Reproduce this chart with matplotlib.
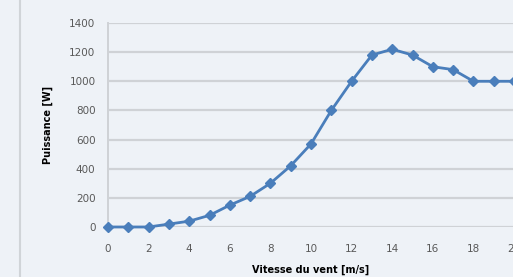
import matplotlib.pyplot as plt
from matplotlib.lines import Line2D

# wind speed [m/s] vs power [W]
vitesse = [0, 1, 2, 3, 4, 5, 6, 7, 8, 9, 10, 11, 12, 13, 14, 15, 16, 17, 18, 19, 20]
puissance = [0, 0, 0, 20, 40, 80, 150, 210, 300, 420, 570, 800, 1000, 1180, 1220,
             1180, 1100, 1080, 1000, 1000, 1000]
x_ticks = [0, 2, 4, 6, 8, 10, 12, 14, 16, 18, 20]
y_ticks = [0, 200, 400, 600, 800, 1000, 1200, 1400]

bg = "#eef2f7"
fig = plt.figure(figsize=(5.13, 2.77), dpi=100, facecolor=bg)
ax = fig.add_axes([108 / 513, 50 / 277, 406 / 513, 204 / 277], facecolor=bg)

ax.plot(vitesse, puissance, color="#4a7ebb", lw=2, marker="D", ms=5.5,
        clip_on=False, zorder=3)

ax.set_xlim(0, 20)
ax.set_ylim(0, 1400)
ax.set_xticks(x_ticks)
ax.set_yticks(y_ticks)
ax.grid(axis="y", color="#cfd2d6", lw=1.6)
ax.set_axisbelow(True)
for s in ["top", "right", "bottom"]:
    ax.spines[s].set_visible(False)
ax.spines["left"].set_color("#cfd2d6")
ax.spines["left"].set_linewidth(1.4)
ax.tick_params(length=0, labelsize=7.5, colors="#595959")
ax.tick_params(axis="x", pad=12)
ax.tick_params(axis="y", pad=9)

ax.set_xlabel("Vitesse du vent [m/s]", fontsize=7, fontweight="bold", labelpad=8)
ax.set_ylabel("Puissance [W]", fontsize=7, fontweight="bold", labelpad=12)

# outer frame edge of the chart
fig.add_artist(Line2D([20 / 513, 20 / 513], [0, 1], color="#d0d4d8", lw=1.5))

plt.savefig("out.png", dpi=100, facecolor=bg)
